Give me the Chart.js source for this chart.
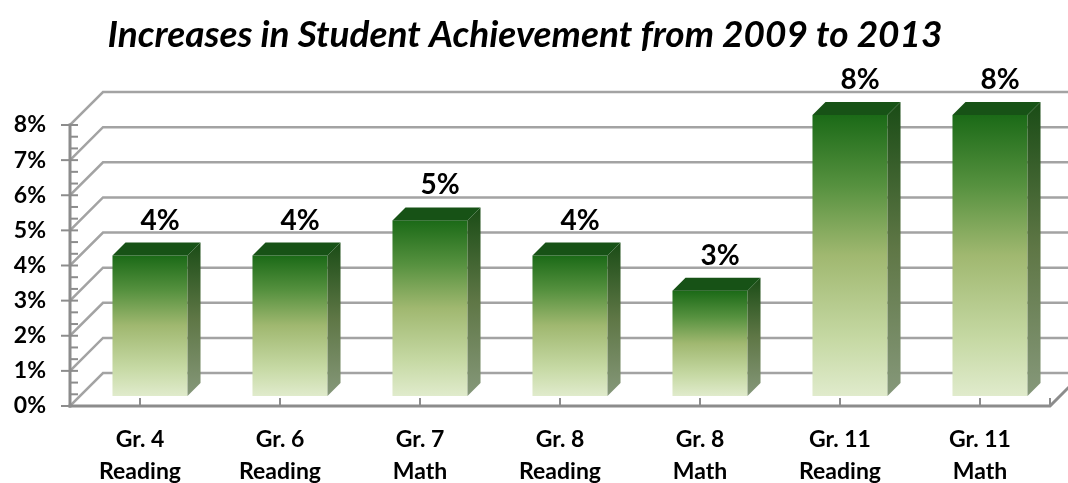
<!DOCTYPE html>
<html>
<head>
<meta charset="utf-8">
<script src="https://cdn.jsdelivr.net/npm/chart.js@4/dist/chart.umd.min.js"></script>
<style>
  body { margin: 0; background: #fff; }
  #box { width: 1068px; height: 483px; }
</style>
</head>
<body>
<div id="box"><canvas id="ganhos"></canvas></div>
<script>
  const categorias = [['Gr. 4','Reading'],['Gr. 6','Reading'],['Gr. 7','Math'],['Gr. 8','Reading'],['Gr. 8','Math'],['Gr. 11','Reading'],['Gr. 11','Math']];
  const aumentos = [4,4,5,4,3,8,8];
  const yMin = 0;
  const yMax = 8;

  Chart.defaults.color = '#000'
  Chart.defaults.font.family = 'Lato'
  Chart.defaults.font.weight = 'bold'

  const PROF = 33;   // depth of the back wall
  const DESL = 10;   // bars sit a little behind the front plane
  const LADO = 13;   // bar thickness

  /* =================================== */

  const parede3d = {
    id: 'parede3d',
    beforeDatasetsDraw(chart) {
      const c = chart.ctx, a = chart.chartArea, y = chart.scales.y, x = chart.scales.x;
      const y0 = y.getPixelForValue(0);
      c.save();
      c.lineCap = 'square';
      // back wall + left wall lines
      c.strokeStyle = '#a3a3a3';
      c.lineWidth = 2.5;
      for (let v = yMin; v <= yMax; v++) {
        const yv = y.getPixelForValue(v);
        c.beginPath();
        c.moveTo(a.left, yv);
        c.lineTo(a.left + PROF, yv - PROF);
        c.lineTo(a.right + PROF + 40, yv - PROF);
        c.stroke();
      }
      // floor front edge
      c.strokeStyle = '#8c8c8c';
      c.lineWidth = 3;
      c.beginPath();
      c.moveTo(a.left, y0);
      c.lineTo(a.right, y0);
      c.lineTo(a.right + PROF, y0 - PROF);
      c.stroke();
      // value axis
      c.beginPath();
      c.moveTo(a.left, y.getPixelForValue(yMax));
      c.lineTo(a.left, y0);
      c.stroke();
      c.lineWidth = 2;
      for (let v = yMin; v <= yMax; v++) {
        const yv = y.getPixelForValue(v);
        c.beginPath();
        c.moveTo(a.left - 8, yv);
        c.lineTo(a.left + 7, yv);
        c.stroke();
        if (v < yMax) {
          for (const f of [1/3, 2/3]) {
            const ym = y.getPixelForValue(v + f);
            c.beginPath();
            c.moveTo(a.left, ym);
            c.lineTo(a.left + 7, ym);
            c.stroke();
          }
        }
      }
      // category ticks
      const marcas = categorias.map((_, i) => x.getPixelForValue(i));
      marcas.push(a.right);
      marcas.forEach(px => {
        c.beginPath();
        c.moveTo(px, y0 - 7);
        c.lineTo(px, y0);
        c.stroke();
      });
      c.restore();
    },
    afterDatasetsDraw(chart) {
      const c = chart.ctx;
      const meta = chart.getDatasetMeta(0);
      c.save();
      meta.data.forEach((bar, i) => {
        const p = bar.getProps(['x','y','base','width'], true);
        const l = p.x - p.width / 2 + DESL, r = p.x + p.width / 2 + DESL;
        const t = p.y - DESL, b = p.base - DESL;

        let g = c.createLinearGradient(0, t, 0, b);
        g.addColorStop(0, '#1b6a17');
        g.addColorStop(0.25, '#56913f');
        g.addColorStop(0.5, '#a0b870');
        g.addColorStop(0.8, '#c6d9a4');
        g.addColorStop(1, '#e0ebcc');
        c.fillStyle = g;
        c.fillRect(l, t, r - l, b - t);

        g = c.createLinearGradient(0, t - LADO, 0, b);
        g.addColorStop(0, '#1a4c16');
        g.addColorStop(0.5, '#5f7746');
        g.addColorStop(1, '#86987a');
        c.fillStyle = g;
        c.beginPath();
        c.moveTo(r, t);
        c.lineTo(r + LADO, t - LADO);
        c.lineTo(r + LADO, b - LADO);
        c.lineTo(r, b);
        c.closePath();
        c.fill();

        c.fillStyle = '#175216';
        c.beginPath();
        c.moveTo(l, t);
        c.lineTo(l + LADO, t - LADO);
        c.lineTo(r + LADO, t - LADO);
        c.lineTo(r, t);
        c.closePath();
        c.fill();

        // value label
        c.fillStyle = '#000';
        c.font = 'bold 28px Lato';
        c.textAlign = 'center';
        c.textBaseline = 'middle';
        c.fillText(aumentos[i] + '%', p.x + 20, t - 35);
      });
      c.restore();
    }
  };

  /* =================================== */

  const ganhos = document.getElementById('ganhos');

  new Chart(ganhos, {
    type: 'bar',
    data: {
      labels: categorias,
      datasets: [{
        label: 'Increase',
        data: aumentos,
        backgroundColor: 'rgba(0,0,0,0)',
        categoryPercentage: 1,
        barPercentage: 0.536
      }]
    },
    options: {
      responsive: true,
      maintainAspectRatio: false,
      animation: false,
      layout: { padding: { left: 0, right: 18, top: 0, bottom: 0 } },
      plugins: {
        legend: { display: false },
        tooltip: { enabled: false },
        title: {
          display: true,
          text: 'Increases in Student Achievement from 2009 to 2013',
          font: { size: 37, style: 'italic', weight: 'bold' },
          color: '#000',
          padding: { top: 13, bottom: 67.6 }
        }
      },
      scales: {
        x: {
          grid: { display: false, drawTicks: false },
          border: { display: false },
          ticks: { font: { size: 23, lineHeight: 1.39 }, padding: 18, maxRotation: 0, autoSkip: false },
          afterFit(s) { s.height = 77; }
        },
        y: {
          min: yMin,
          max: yMax,
          grid: { display: false, drawTicks: false },
          border: { display: false },
          ticks: { stepSize: 1, font: { size: 23 }, padding: 24, callback: v => v + '%' },
          afterFit(s) { s.width = 70; }
        }
      }
    },
    plugins: [parede3d]
  });
</script>
</body>
</html>
